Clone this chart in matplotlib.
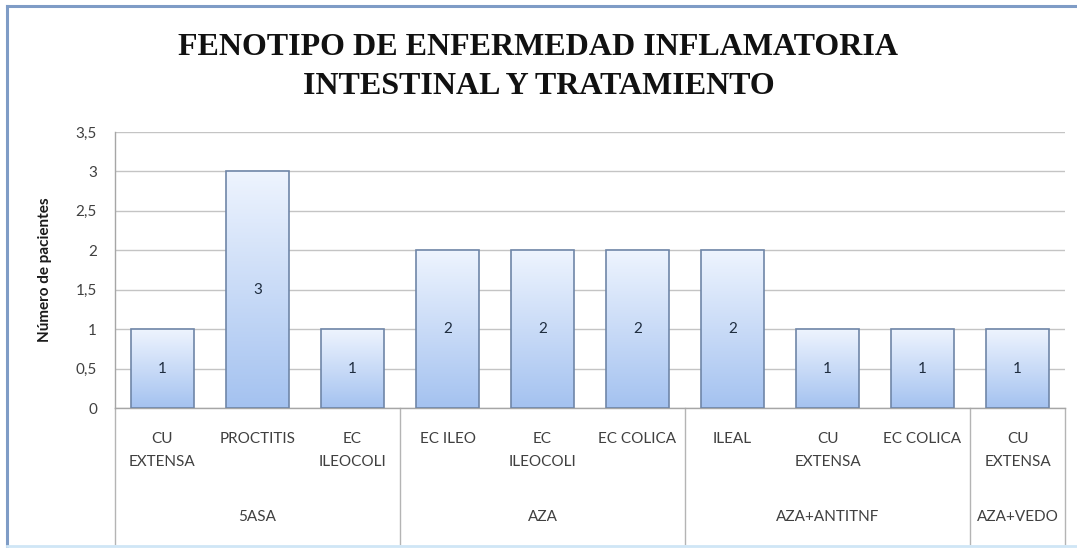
import matplotlib
matplotlib.use('Agg')
import matplotlib.pyplot as plt
import numpy as np
from matplotlib.colors import LinearSegmentedColormap
from matplotlib.lines import Line2D

categories = ['CU\nEXTENSA', 'PROCTITIS', 'EC\nILEOCOLI', 'EC ILEO', 'EC\nILEOCOLI',
              'EC COLICA', 'ILEAL', 'CU\nEXTENSA', 'EC COLICA', 'CU\nEXTENSA']
values = [1, 3, 1, 2, 2, 2, 2, 1, 1, 1]
groups = ['5ASA', 'AZA', 'AZA+ANTITNF', 'AZA+VEDO']
group_sizes = [3, 3, 3, 1]
yticks = [0, 0.5, 1, 1.5, 2, 2.5, 3, 3.5]
ytick_labels = ['0', '0,5', '1', '1,5', '2', '2,5', '3', '3,5']
title = 'FENOTIPO DE ENFERMEDAD INFLAMATORIA\nINTESTINAL Y TRATAMIENTO'
ylabel = 'Número de pacientes'

W, H = 1077, 548
fig = plt.figure(figsize=(W / 100, H / 100), dpi=100)
fig.patch.set_facecolor('white')

# outer frame
fig.add_artist(Line2D([7 / W, 7 / W], [1 - 6 / H, 1 - 546 / H], transform=fig.transFigure,
                      color='#7f9cc6', lw=2.2))
fig.add_artist(Line2D([7 / W, 1.0], [1 - 6 / H, 1 - 6 / H], transform=fig.transFigure,
                      color='#7f9cc6', lw=2.2))
fig.add_artist(Line2D([7 / W, 1.0], [1 - 545.5 / H, 1 - 545.5 / H], transform=fig.transFigure,
                      color='#cfe6f6', lw=2))

left, right, top, bottom = 115, 1065, 132, 408
ax = fig.add_axes([left / W, 1 - bottom / H, (right - left) / W, (bottom - top) / H])

for s in ['top', 'right']:
    ax.spines[s].set_visible(False)
for s in ['left', 'bottom']:
    ax.spines[s].set_color('#a6a6a6')
    ax.spines[s].set_linewidth(1.0)

ax.set_yticks(yticks)
ax.set_yticklabels(ytick_labels)
ax.tick_params(axis='y', length=0, pad=13, labelsize=11, labelcolor='#404040')
for lab in ax.get_yticklabels():
    lab.set_family('Lato')
ax.set_xticks([])
ax.yaxis.grid(True, color='#c4c4c4', lw=1.0)
ax.set_axisbelow(True)

ax.set_ylabel(ylabel, fontsize=11, fontweight='bold', family='Lato', color='#1a1a1a')
ax.yaxis.set_label_coords((52 - left) / (right - left), 0.5)

cmap = LinearSegmentedColormap.from_list('g', ['#a4c2f0', '#eef4fe'])
x = np.arange(len(values))
bars = ax.bar(x, values, width=0.66, facecolor='none', edgecolor='#6f86a8', lw=1.2, zorder=3)
grad = np.linspace(0, 1, 256).reshape(-1, 1)
for b in bars:
    bx, by = b.get_x(), b.get_y()
    bw, bh = b.get_width(), b.get_height()
    im = ax.imshow(grad, cmap=cmap, aspect='auto', origin='lower',
                   extent=[bx, bx + bw, by, by + bh], zorder=2)
    im.set_clip_path(b)
ax.set_xlim(-0.5, len(values) - 0.5)
ax.set_ylim(0, 3.5)

for xi, v in zip(x, values):
    ax.text(xi, v / 2, str(v), ha='center', va='center', fontsize=11, family='Lato',
            color='#1f2d40', zorder=4)

trans = ax.get_xaxis_transform()
axh = bottom - top
for xi, c in zip(x, categories):
    ax.text(xi, -(432 - bottom) / axh, c, transform=trans, ha='center', va='top',
            fontsize=11, family='Lato', color='#404040', linespacing=1.8)

bounds = np.concatenate([[0], np.cumsum(group_sizes)]) - 0.5
for b in bounds:
    ax.plot([b, b], [0, -(544 - bottom) / axh], transform=trans, color='#b4b4b4', lw=1.0,
            clip_on=False)
for i, g in enumerate(groups):
    cx = (bounds[i] + bounds[i + 1]) / 2
    ax.text(cx, -(517 - bottom) / axh, g, transform=trans, ha='center', va='center',
            fontsize=11, family='Lato', color='#404040')

fig.text(0.5, 1 - 67 / H, title, ha='center', va='center', fontsize=23,
         family='Liberation Serif', fontweight='bold', color='#111111', linespacing=1.45)

fig.savefig('out.png', dpi=100)
